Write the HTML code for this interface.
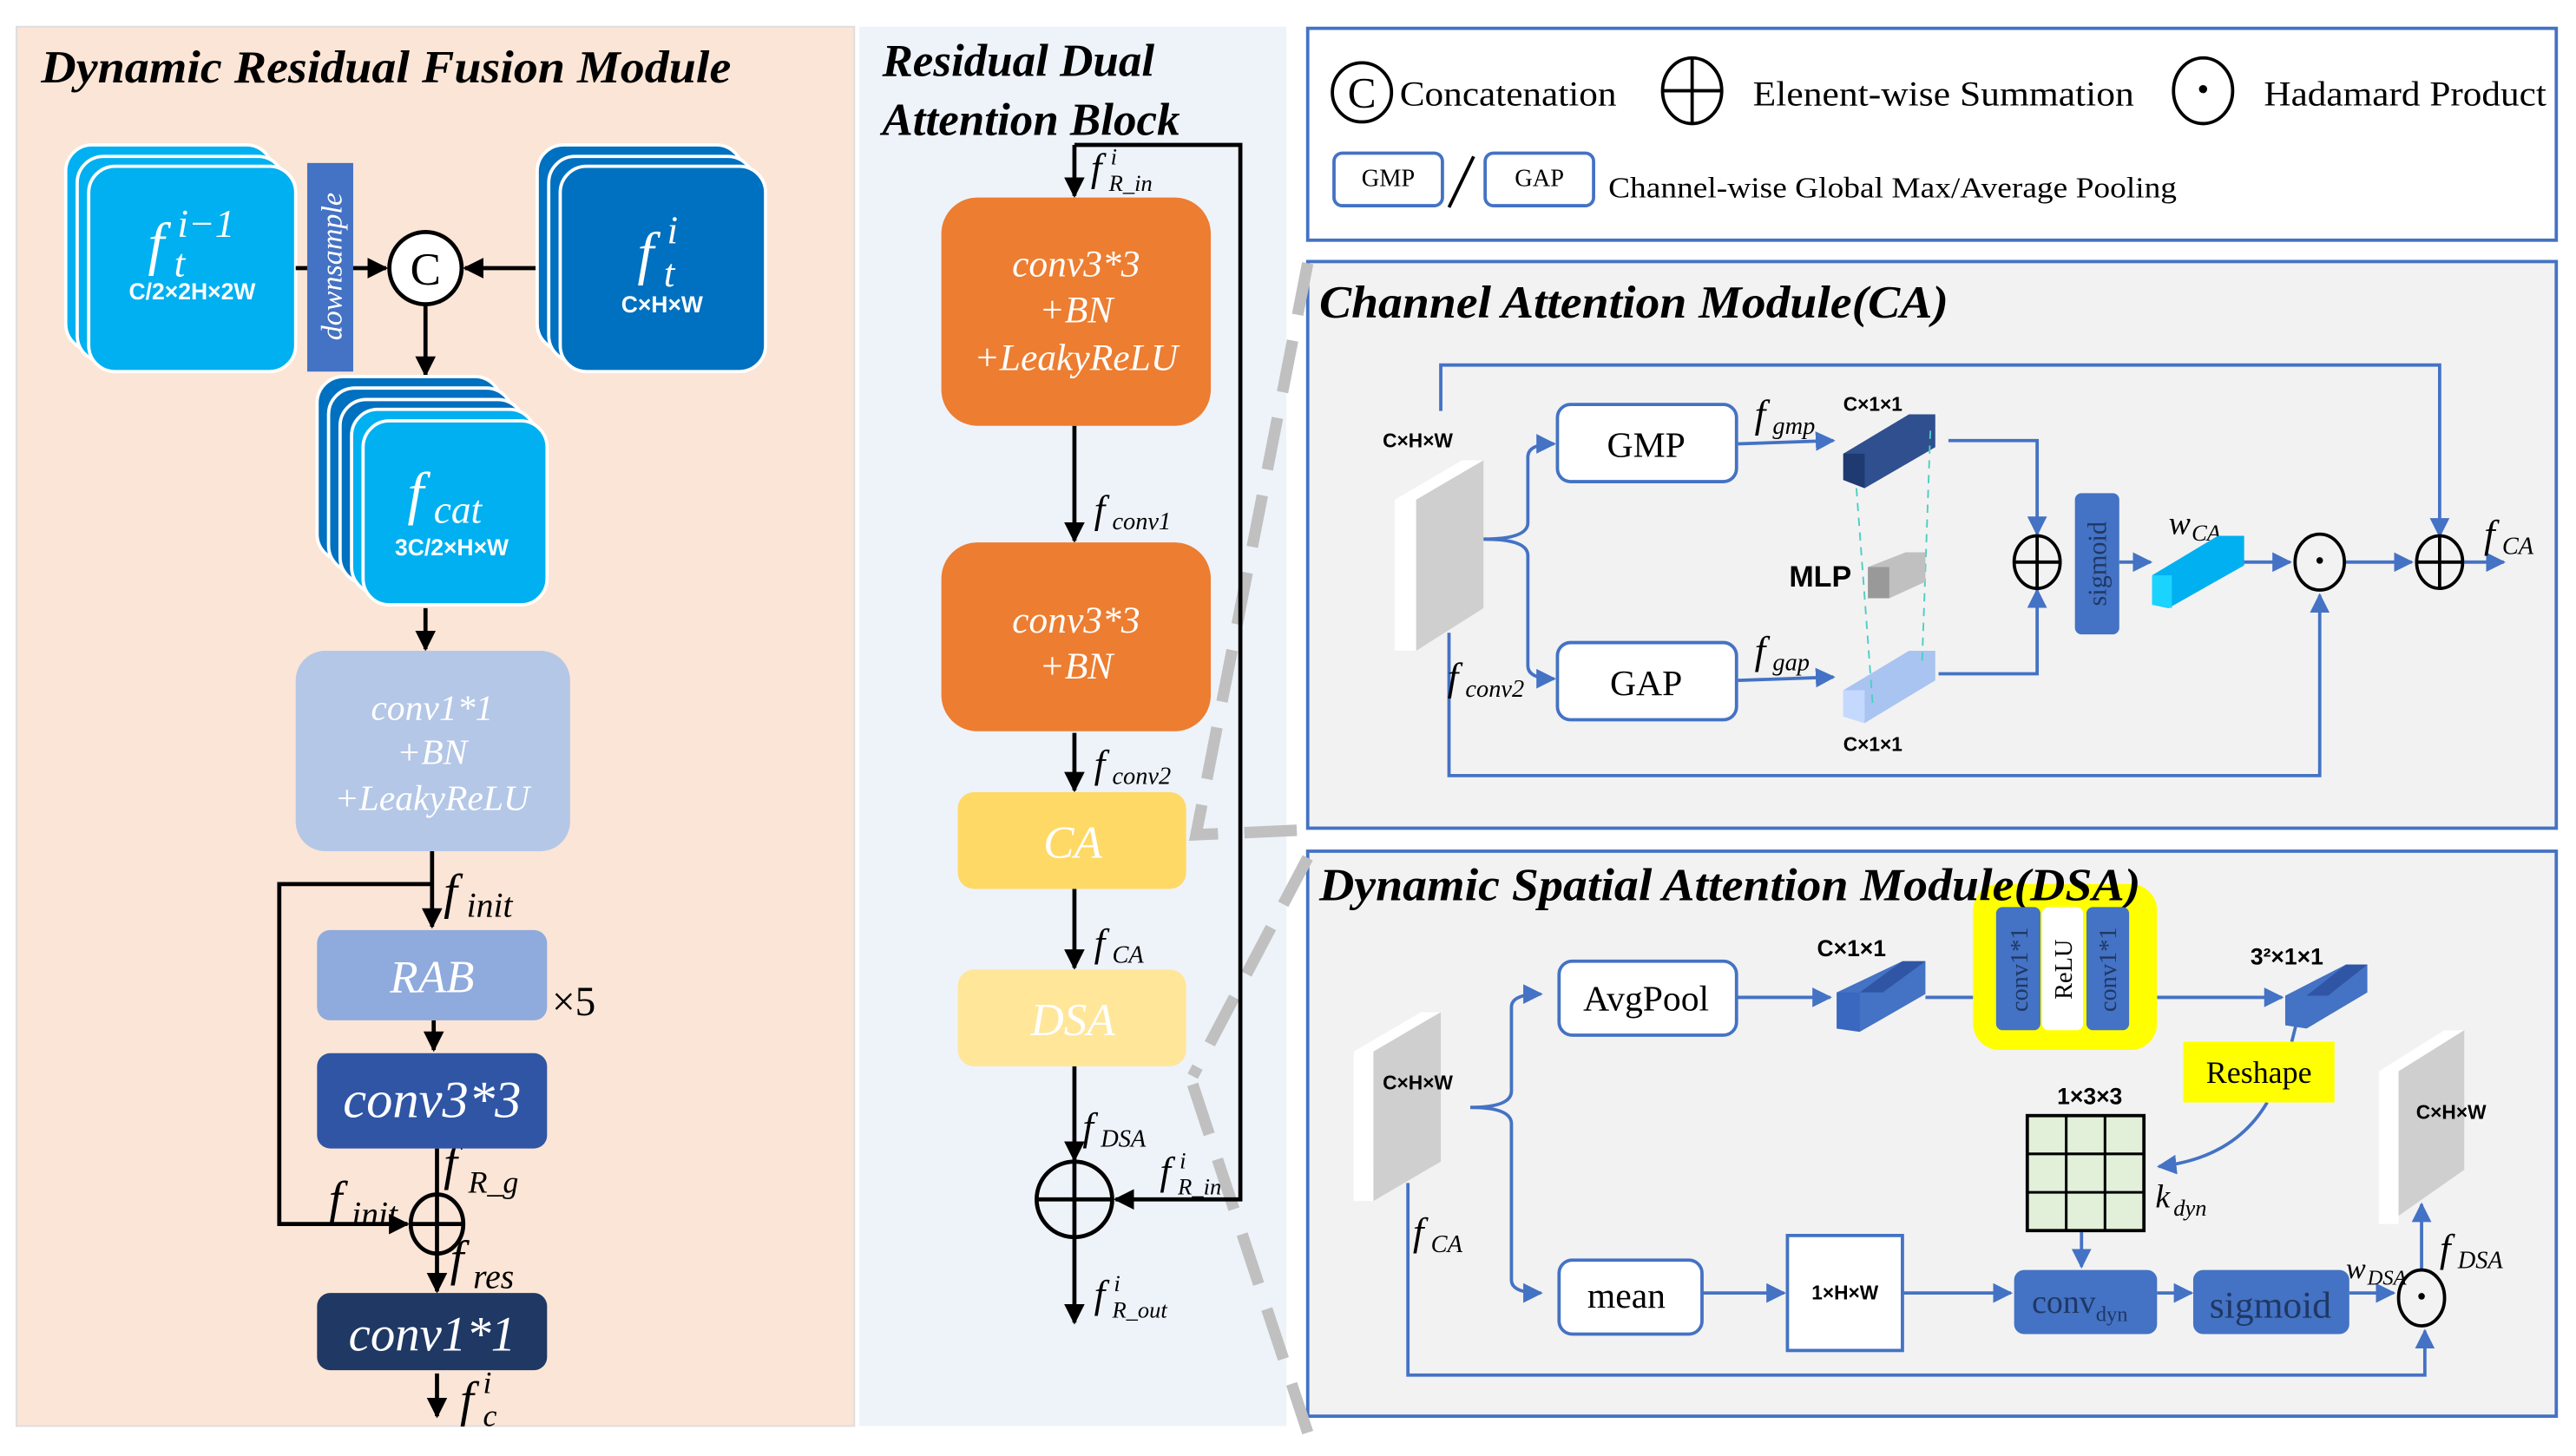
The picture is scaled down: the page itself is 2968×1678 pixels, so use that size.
<!DOCTYPE html>
<html><head><meta charset="utf-8"><style>
html,body{margin:0;padding:0;background:#fff;}
svg{display:block;}
text{font-family:"Liberation Serif",serif;}
.s{font-family:"Liberation Sans",sans-serif;font-weight:bold;}
.it{font-style:italic;}
.t{font-weight:bold;font-style:italic;font-size:28px;}
.w{fill:#fff;}
</style></head><body>
<svg width="2968" height="1678" viewBox="0 0 1568 886" xmlns="http://www.w3.org/2000/svg">
<defs>
<marker id="a" viewBox="0 0 10 10" refX="9" refY="5" markerWidth="5" markerHeight="5" orient="auto"><path d="M0,0L10,5L0,10z" fill="#000"/></marker>
<marker id="b" viewBox="0 0 10 10" refX="9" refY="5" markerWidth="6" markerHeight="6" orient="auto"><path d="M0,0L10,5L0,10z" fill="#4472c4"/></marker>
</defs>
<rect width="1568" height="886" fill="#fff"/>
<!-- panels -->
<rect x="10" y="16" width="510" height="852" fill="#fbe5d6" stroke="#ddd"/>
<rect x="523" y="16" width="260" height="852" fill="#eef3fa"/>
<rect x="796" y="17" width="760" height="129" fill="#fff" stroke="#4472c4" stroke-width="2"/>
<rect x="796" y="159" width="760" height="345" fill="#f2f2f2" stroke="#4472c4" stroke-width="2"/>
<rect x="796" y="518" width="760" height="344" fill="#f2f2f2" stroke="#4472c4" stroke-width="2"/>
<!-- dashed gray connectors -->
<g stroke="#c0c0c0" stroke-width="7" fill="none" stroke-dasharray="32,16">
<path d="M796,160L728,508L796,505"/>
<path d="M796,522L726,655"/>
<path d="M726,660L796,872"/>
</g>

<!-- LEFT PANEL -->
<text x="25" y="50" class="t" textLength="420" lengthAdjust="spacingAndGlyphs">Dynamic Residual Fusion Module</text>
<g stroke="#fff" stroke-width="2" fill="#00b0f0">
<rect x="40" y="88" width="126" height="125" rx="16"/>
<rect x="47" y="95" width="126" height="125" rx="16"/>
<rect x="54" y="101" width="126" height="125" rx="16"/>
</g>
<g class="w it">
<text x="90" y="160" font-size="36">f</text>
<text x="106" y="168" font-size="24">t</text>
<text x="108" y="144" font-size="24">i−1</text>
</g>
<text x="117" y="182" class="w s" font-size="14" text-anchor="middle">C/2×2H×2W</text>
<line x1="180" y1="163" x2="235" y2="163" stroke="#000" stroke-width="2.5" marker-end="url(#a)"/>
<rect x="187" y="99" width="28" height="127" fill="#4472c4"/>
<text transform="translate(208,162) rotate(-90)" class="w it" font-size="18" text-anchor="middle">downsample</text>
<line x1="328" y1="163" x2="283" y2="163" stroke="#000" stroke-width="2.5" marker-end="url(#a)"/>
<circle cx="259" cy="163" r="22" fill="#fff" stroke="#000" stroke-width="2.5"/>
<text x="259" y="173" font-family="Liberation Sans" font-size="28" text-anchor="middle">C</text>
<g stroke="#fff" stroke-width="2" fill="#0070c0">
<rect x="327" y="88" width="125" height="125" rx="16"/>
<rect x="334" y="95" width="125" height="125" rx="16"/>
<rect x="341" y="101" width="125" height="125" rx="16"/>
</g>
<g class="w it">
<text x="388" y="166" font-size="36">f</text>
<text x="404" y="174" font-size="24">t</text>
<text x="406" y="148" font-size="24">i</text>
</g>
<text x="403" y="190" class="w s" font-size="14" text-anchor="middle">C×H×W</text>
<line x1="259" y1="185" x2="259" y2="228" stroke="#000" stroke-width="2.5" marker-end="url(#a)"/>
<g stroke="#fff" stroke-width="2">
<rect x="193" y="229" width="112" height="112" rx="16" fill="#0070c0"/>
<rect x="200" y="236" width="112" height="112" rx="16" fill="#0070c0"/>
<rect x="207" y="243" width="112" height="112" rx="16" fill="#0070c0"/>
<rect x="214" y="249" width="112" height="112" rx="16" fill="#00b0f0"/>
<rect x="221" y="256" width="112" height="112" rx="16" fill="#00b0f0"/>
</g>
<g class="w it">
<text x="248" y="312" font-size="36">f</text>
<text x="264" y="318" font-size="24">cat</text>
</g>
<text x="275" y="338" class="w s" font-size="14" text-anchor="middle">3C/2×H×W</text>
<line x1="259" y1="370" x2="259" y2="395" stroke="#000" stroke-width="2.5" marker-end="url(#a)"/>
<rect x="180" y="396" width="167" height="122" rx="18" fill="#b4c7e7"/>
<g class="w it" font-size="22" text-anchor="middle"><text x="263" y="438">conv1*1</text><text x="263" y="465">+BN</text><text x="263" y="493">+LeakyReLU</text></g>
<g stroke="#000" stroke-width="2.5" fill="none">
<line x1="263" y1="518" x2="263" y2="564" marker-end="url(#a)"/>
<polyline points="263,538 170,538 170,745 248,745" marker-end="url(#a)"/>
<line x1="264" y1="621" x2="264" y2="639" marker-end="url(#a)"/>
<line x1="266" y1="699" x2="266" y2="726"/>
<line x1="266" y1="764" x2="266" y2="786" marker-end="url(#a)"/>
<line x1="266" y1="836" x2="266" y2="862" marker-end="url(#a)"/>
</g>
<ellipse cx="266" cy="745" rx="16" ry="18" fill="none" stroke="#000" stroke-width="2.5"/>
<line x1="250" y1="745" x2="282" y2="745" stroke="#000" stroke-width="2.5"/>
<line x1="266" y1="727" x2="266" y2="763" stroke="#000" stroke-width="2.5"/>
<g class="it">
<text x="270" y="553" font-size="30">f</text><text x="284" y="558" font-size="21">init</text>
<text x="270" y="718" font-size="30">f</text><text x="285" y="726" font-size="19">R_g</text>
<text x="200" y="740" font-size="30">f</text><text x="214" y="746" font-size="21">init</text>
<text x="274" y="776" font-size="30">f</text><text x="288" y="784" font-size="21">res</text>
<text x="280" y="862" font-size="30">f</text><text x="294" y="868" font-size="19">c</text><text x="294" y="848" font-size="19">i</text>
</g>
<rect x="193" y="566" width="140" height="55" rx="8" fill="#8faadc"/>
<text x="263" y="604" class="w it" font-size="28" text-anchor="middle">RAB</text>
<text x="336" y="618" font-family="Liberation Sans" font-size="25">×5</text>
<rect x="193" y="641" width="140" height="58" rx="8" fill="#2f55a4"/>
<text x="263" y="680" class="w it" font-size="32" text-anchor="middle">conv3*3</text>
<rect x="193" y="787" width="140" height="47" rx="8" fill="#1f3864"/>
<text x="263" y="822" class="w it" font-size="30" text-anchor="middle">conv1*1</text>

<!-- MIDDLE PANEL -->
<text x="537" y="46" class="t">Residual Dual</text>
<text x="537" y="82" class="t">Attention Block</text>
<g stroke="#000" stroke-width="2.5" fill="none">
<line x1="654" y1="88" x2="654" y2="119" marker-end="url(#a)"/>
<polyline points="654,88 755,88 755,730 679,730" marker-end="url(#a)"/>
<line x1="654" y1="259" x2="654" y2="329" marker-end="url(#a)"/>
<line x1="654" y1="446" x2="654" y2="481" marker-end="url(#a)"/>
<line x1="654" y1="541" x2="654" y2="589" marker-end="url(#a)"/>
<line x1="654" y1="649" x2="654" y2="706" marker-end="url(#a)"/>
<line x1="654" y1="753" x2="654" y2="805" marker-end="url(#a)"/>
<circle cx="654" cy="730" r="23"/>
<line x1="631" y1="730" x2="677" y2="730"/><line x1="654" y1="707" x2="654" y2="753"/>
</g>
<g class="it">
<text x="664" y="110" font-size="24">f</text><text x="675" y="116" font-size="14">R_in</text><text x="676" y="100" font-size="14">i</text>
<text x="666" y="318" font-size="24">f</text><text x="677" y="322" font-size="15">conv1</text>
<text x="666" y="473" font-size="24">f</text><text x="677" y="477" font-size="15">conv2</text>
<text x="666" y="582" font-size="24">f</text><text x="677" y="586" font-size="15">CA</text>
<text x="659" y="694" font-size="24">f</text><text x="670" y="698" font-size="15">DSA</text>
<text x="706" y="721" font-size="24">f</text><text x="717" y="727" font-size="14">R_in</text><text x="718" y="711" font-size="14">i</text>
<text x="666" y="796" font-size="24">f</text><text x="677" y="802" font-size="14">R_out</text><text x="678" y="786" font-size="14">i</text>
</g>
<rect x="573" y="120" width="164" height="139" rx="22" fill="#ed7d31"/>
<g class="w it" font-size="23" text-anchor="middle"><text x="655" y="168">conv3*3</text><text x="655" y="196">+BN</text><text x="655" y="225">+LeakyReLU</text></g>
<rect x="573" y="330" width="164" height="115" rx="22" fill="#ed7d31"/>
<g class="w it" font-size="23" text-anchor="middle"><text x="655" y="385">conv3*3</text><text x="655" y="413">+BN</text></g>
<rect x="583" y="482" width="139" height="59" rx="10" fill="#ffd966"/>
<text x="653" y="522" class="w it" font-size="28" text-anchor="middle">CA</text>
<rect x="583" y="590" width="139" height="59" rx="10" fill="#ffe699"/>
<text x="653" y="630" class="w it" font-size="28" text-anchor="middle">DSA</text>

<!-- LEGEND -->
<g stroke="#000" stroke-width="2" fill="none">
<circle cx="829" cy="56" r="18"/>
<ellipse cx="1030" cy="55" rx="18" ry="20"/><line x1="1012" y1="55" x2="1048" y2="55"/><line x1="1030" y1="35" x2="1030" y2="75"/>
<ellipse cx="1341" cy="55" rx="18" ry="20"/>
<line x1="882" y1="126" x2="897" y2="95"/>
</g>
<circle cx="1341" cy="54" r="2.5" fill="#000"/>
<text x="829" y="65" font-family="Liberation Sans" font-size="26" text-anchor="middle">C</text>
<text x="852" y="64" font-size="21" textLength="132" lengthAdjust="spacingAndGlyphs">Concatenation</text>
<text x="1067" y="64" font-size="21" textLength="232" lengthAdjust="spacingAndGlyphs">Elenent-wise Summation</text>
<text x="1378" y="64" font-size="21" textLength="172" lengthAdjust="spacingAndGlyphs">Hadamard Product</text>
<rect x="812" y="93" width="66" height="32" rx="5" fill="#fff" stroke="#4472c4" stroke-width="2"/>
<rect x="904" y="93" width="66" height="32" rx="5" fill="#fff" stroke="#4472c4" stroke-width="2"/>
<text x="845" y="113" font-size="15" text-anchor="middle">GMP</text>
<text x="937" y="113" font-size="15" text-anchor="middle">GAP</text>
<text x="979" y="120" font-size="18" textLength="346" lengthAdjust="spacingAndGlyphs">Channel-wise Global Max/Average Pooling</text>

<!-- CA MODULE -->
<text x="803" y="193" class="t" textLength="383" lengthAdjust="spacingAndGlyphs">Channel Attention Module(CA)</text>
<g stroke="#4472c4" stroke-width="2" fill="none">
<polyline points="877,250 877,222 1485,222 1485,326" marker-end="url(#b)"/>
<polyline points="882,385 882,472 1412,472 1412,362" marker-end="url(#b)"/>
<path d="M903,328 Q930,328 930,318 L930,278 Q930,270 946,270" marker-end="url(#b)"/>
<path d="M903,328 Q930,328 930,338 L930,405 Q930,413 946,413" marker-end="url(#b)"/>
<line x1="1058" y1="270" x2="1116" y2="268" marker-end="url(#b)"/>
<line x1="1058" y1="414" x2="1116" y2="412" marker-end="url(#b)"/>
<polyline points="1186,268 1240,268 1240,325" marker-end="url(#b)"/>
<polyline points="1180,410 1240,410 1240,359" marker-end="url(#b)"/>
<line x1="1290" y1="342" x2="1309" y2="342" marker-end="url(#b)"/>
<line x1="1363" y1="342" x2="1394" y2="342" marker-end="url(#b)"/>
<line x1="1427" y1="342" x2="1468" y2="342" marker-end="url(#b)"/>
<line x1="1500" y1="342" x2="1524" y2="342" marker-end="url(#b)"/>
</g>
<polygon points="849,304 862,304 903,280 890,280" fill="#fff"/>
<rect x="849" y="304" width="13" height="92" fill="#fff"/>
<polygon points="862,304 903,280 903,370 862,396" fill="#cfcfcf"/>
<text x="863" y="272" class="s" font-size="12" text-anchor="middle">C×H×W</text>
<g class="it">
<text x="881" y="420" font-size="24">f</text><text x="892" y="424" font-size="15">conv2</text>
<text x="1068" y="260" font-size="24">f</text><text x="1079" y="264" font-size="15">gmp</text>
<text x="1068" y="404" font-size="24">f</text><text x="1079" y="408" font-size="15">gap</text>
<text x="1512" y="333" font-size="24">f</text><text x="1523" y="337" font-size="15">CA</text>
<text x="1320" y="325" font-size="20">w</text><text x="1334" y="329" font-size="14">CA</text>
</g>
<rect x="948" y="246" width="109" height="47" rx="8" fill="#fff" stroke="#4472c4" stroke-width="2"/>
<text x="1002" y="278" font-size="22" text-anchor="middle">GMP</text>
<rect x="948" y="391" width="109" height="47" rx="8" fill="#fff" stroke="#4472c4" stroke-width="2"/>
<text x="1002" y="423" font-size="22" text-anchor="middle">GAP</text>
<text x="1140" y="250" class="s" font-size="12" text-anchor="middle">C×1×1</text>
<text x="1140" y="457" class="s" font-size="12" text-anchor="middle">C×1×1</text>
<polygon points="1122,276 1162,252 1178,252 1178,272 1135,297 1122,292" fill="#2f4f8f"/>
<polygon points="1122,276 1135,276 1135,297 1122,292" fill="#1f3a70"/>
<polygon points="1122,420 1162,396 1178,396 1178,414 1135,440 1122,436" fill="#a9c4f0"/>
<polygon points="1122,420 1135,420 1135,440 1122,436" fill="#c5d9ff"/>
<g stroke="#4ecdc4" stroke-width="1" stroke-dasharray="5,4"><line x1="1130" y1="297" x2="1140" y2="430"/><line x1="1175" y1="262" x2="1170" y2="402"/></g>
<polygon points="1137,345 1160,336 1172,336 1172,354 1150,364 1137,364" fill="#c0c0c0"/>
<rect x="1137" y="345" width="13" height="19" fill="#999"/>
<text x="1089" y="357" class="s" font-size="18">MLP</text>
<g stroke="#000" stroke-width="2" fill="none"><ellipse cx="1240" cy="342" rx="14" ry="16"/><line x1="1226" y1="342" x2="1254" y2="342"/><line x1="1240" y1="326" x2="1240" y2="358"/></g>
<rect x="1263" y="300" width="27" height="86" rx="4" fill="#4472c4"/>
<text transform="translate(1282,343) rotate(-90)" font-size="16" text-anchor="middle" fill="#1f3864">sigmoid</text>
<polygon points="1310,350 1350,326 1366,326 1366,344 1320,370 1310,368" fill="#00b0f0"/>
<polygon points="1310,350 1322,350 1322,370 1310,368" fill="#1ad4ff"/>
<g stroke="#000" stroke-width="2" fill="none"><ellipse cx="1412" cy="342" rx="15" ry="17"/><ellipse cx="1485" cy="342" rx="14" ry="16"/><line x1="1471" y1="342" x2="1499" y2="342"/><line x1="1485" y1="326" x2="1485" y2="358"/></g>
<circle cx="1412" cy="341" r="2" fill="#000"/>

<!-- DSA MODULE -->
<g stroke="#4472c4" stroke-width="2" fill="none">
<polyline points="857,720 857,837 1476,837 1476,810" marker-end="url(#b)"/>
<path d="M895,674 Q920,674 920,664 L920,613 Q920,605 938,605" marker-end="url(#b)"/>
<path d="M895,674 Q920,674 920,684 L920,779 Q920,787 938,787" marker-end="url(#b)"/>
<line x1="1057" y1="607" x2="1114" y2="607" marker-end="url(#b)"/>
<line x1="1172" y1="607" x2="1201" y2="607"/>
<line x1="1313" y1="607" x2="1389" y2="607" marker-end="url(#b)"/>
<line x1="1398" y1="622" x2="1395" y2="634"/>
<path d="M1380,671 Q1360,705 1314,710" marker-end="url(#b)"/>
<line x1="1267" y1="750" x2="1267" y2="771" marker-end="url(#b)"/>
<line x1="1036" y1="787" x2="1086" y2="787" marker-end="url(#b)"/>
<line x1="1158" y1="787" x2="1224" y2="787" marker-end="url(#b)"/>
<line x1="1313" y1="787" x2="1334" y2="787" marker-end="url(#b)"/>
<line x1="1430" y1="787" x2="1457" y2="787" marker-end="url(#b)"/>
<line x1="1474" y1="773" x2="1474" y2="733" marker-end="url(#b)"/>
</g>
<rect x="1201" y="538" width="112" height="101" rx="16" fill="#ffff00"/>
<text x="803" y="548" class="t" textLength="500" lengthAdjust="spacingAndGlyphs">Dynamic Spatial Attention Module(DSA)</text>
<rect x="1215" y="552" width="27" height="75" rx="4" fill="#4472c4"/>
<rect x="1243" y="552" width="25" height="75" rx="4" fill="#fff"/>
<rect x="1270" y="552" width="26" height="75" rx="4" fill="#4472c4"/>
<text transform="translate(1234,590) rotate(-90)" font-size="15" text-anchor="middle" fill="#1f3864">conv1*1</text>
<text transform="translate(1261,590) rotate(-90)" font-size="15" text-anchor="middle">ReLU</text>
<text transform="translate(1288,590) rotate(-90)" font-size="15" text-anchor="middle" fill="#1f3864">conv1*1</text>
<polygon points="824,640 836,640 877,616 865,616" fill="#fff"/>
<rect x="824" y="640" width="12" height="91" fill="#fff"/>
<polygon points="836,640 877,616 877,707 836,731" fill="#cfcfcf"/>
<text x="863" y="663" class="s" font-size="12" text-anchor="middle">C×H×W</text>
<g class="it">
<text x="860" y="758" font-size="24">f</text><text x="871" y="762" font-size="15">CA</text>
<text x="1312" y="735" font-size="20">k</text><text x="1323" y="740" font-size="14">dyn</text>
<text x="1428" y="778" font-size="18">w</text><text x="1441" y="782" font-size="13">DSA</text>
<text x="1485" y="768" font-size="24">f</text><text x="1496" y="772" font-size="15">DSA</text>
</g>
<rect x="949" y="585" width="108" height="45" rx="8" fill="#fff" stroke="#4472c4" stroke-width="2"/>
<text x="1002" y="615" font-size="22" text-anchor="middle">AvgPool</text>
<text x="1127" y="582" class="s" font-size="14" text-anchor="middle">C×1×1</text>
<polygon points="1118,604 1158,585 1172,585 1172,605 1132,628 1118,626" fill="#4472c4"/>
<polygon points="1118,604 1132,604 1132,628 1118,626" fill="#3a68c0"/>
<polygon points="1132,604 1158,585 1172,585 1146,604" fill="#2f55a4"/>
<text x="1392" y="587" class="s" font-size="14" text-anchor="middle">3²×1×1</text>
<polygon points="1391,606 1428,587 1441,587 1441,604 1404,626 1391,624" fill="#4472c4"/>
<polygon points="1404,606 1428,587 1441,587 1417,606" fill="#2f55a4"/>
<rect x="1329" y="634" width="92" height="37" fill="#ffff00"/>
<text x="1375" y="659" font-size="19" text-anchor="middle">Reshape</text>
<text x="1272" y="672" class="s" font-size="14" text-anchor="middle">1×3×3</text>
<rect x="1234" y="679" width="71" height="70" fill="#e2efd9" stroke="#000" stroke-width="2"/>
<g stroke="#000" stroke-width="1.6"><line x1="1257.7" y1="679" x2="1257.7" y2="749"/><line x1="1281.3" y1="679" x2="1281.3" y2="749"/><line x1="1234" y1="702.3" x2="1305" y2="702.3"/><line x1="1234" y1="725.7" x2="1305" y2="725.7"/></g>
<rect x="949" y="767" width="87" height="45" rx="8" fill="#fff" stroke="#4472c4" stroke-width="2"/>
<text x="990" y="796" font-size="22" text-anchor="middle">mean</text>
<rect x="1088" y="752" width="70" height="70" fill="#fff" stroke="#4472c4" stroke-width="2"/>
<text x="1123" y="791" class="s" font-size="12" text-anchor="middle">1×H×W</text>
<rect x="1226" y="773" width="87" height="39" rx="6" fill="#4472c4"/>
<text x="1266" y="799" font-size="20" text-anchor="middle" fill="#1f3864">conv<tspan font-size="13" dy="5">dyn</tspan></text>
<rect x="1335" y="773" width="95" height="39" rx="6" fill="#4472c4"/>
<text x="1382" y="802" font-size="23" text-anchor="middle" fill="#1f3864">sigmoid</text>
<ellipse cx="1474" cy="790" rx="14" ry="17" fill="none" stroke="#000" stroke-width="2"/>
<circle cx="1474" cy="789" r="2" fill="#000"/>
<polygon points="1448,652 1460,652 1500,627 1488,627" fill="#fff"/>
<rect x="1448" y="652" width="12" height="93" fill="#fff"/>
<polygon points="1460,652 1500,627 1500,712 1460,740" fill="#cfcfcf"/>
<text x="1492" y="681" class="s" font-size="12" text-anchor="middle">C×H×W</text>
</svg>
</body></html>
